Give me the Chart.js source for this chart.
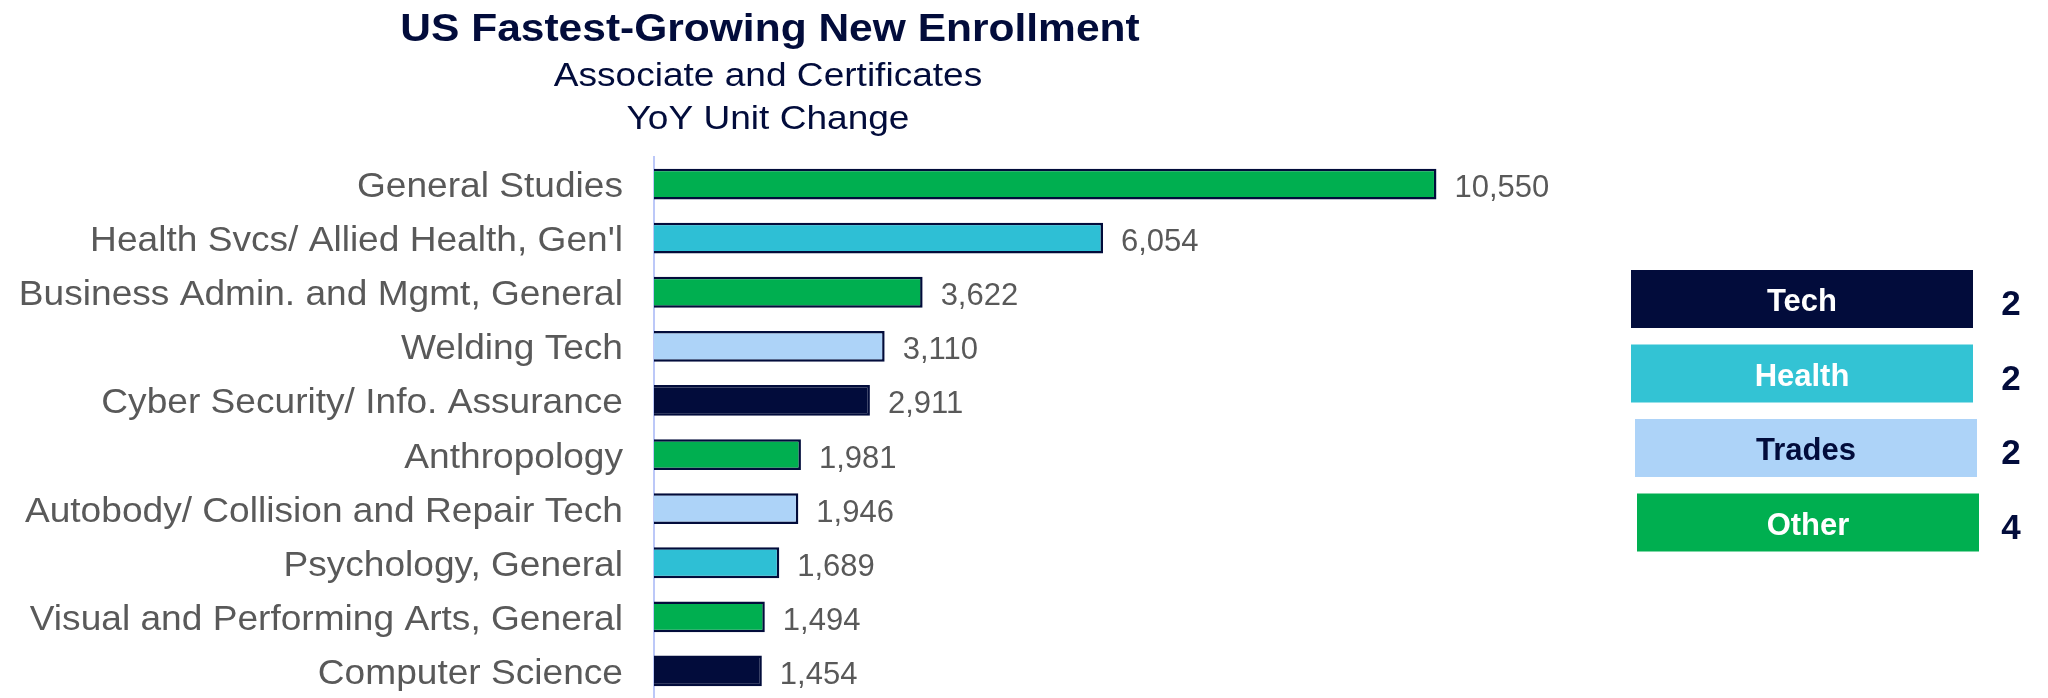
<!DOCTYPE html>
<html>
<head>
<meta charset="utf-8">
<script src="https://cdn.jsdelivr.net/npm/chart.js@4.4.1/dist/chart.umd.min.js"></script>
<style>
  html, body { margin: 0; padding: 0; background: #ffffff; }
  #wrap { width: 2048px; height: 698px; position: relative; }
</style>
</head>
<body>
<div id="wrap"><canvas id="enrollChart"></canvas></div>
<script>
const programs = [
  'General Studies',
  "Health Svcs/ Allied Health, Gen'l",
  'Business Admin. and Mgmt, General',
  'Welding Tech',
  'Cyber Security/ Info. Assurance',
  'Anthropology',
  'Autobody/ Collision and Repair Tech',
  'Psychology, General',
  'Visual and Performing Arts, General',
  'Computer Science'
];
const unitChange = [10550, 6054, 3622, 3110, 2911, 1981, 1946, 1689, 1494, 1454];
const programGroup = ['Other', 'Health', 'Other', 'Trades', 'Tech', 'Other', 'Trades', 'Health', 'Other', 'Tech'];

const groups = ['Tech', 'Health', 'Trades', 'Other'];
const groupCounts = [2, 2, 2, 4];

const titleLines = ['US Fastest-Growing New Enrollment', 'Associate and Certificates', 'YoY Unit Change'];

const navy = '#020C3B';
const groupColors = {
  Tech: '#020C3B',
  Health: '#2EBFD5',
  Trades: '#ADD3F8',
  Other: '#00AF50'
};
const legendColors = {
  Tech: '#020C3B',
  Health: '#33C3D4',
  Trades: '#ADD3F8',
  Other: '#00AF50'
};
const legendTextColors = {
  Tech: '#ffffff',
  Health: '#ffffff',
  Trades: '#020C3B',
  Other: '#ffffff'
};

const FONT = '"Liberation Sans", Arial, sans-serif';
const GRAY = '#595959';

function stretchedText(ctx, text, x, y, sx, align) {
  ctx.save();
  ctx.translate(x, y);
  ctx.scale(sx, 1);
  ctx.textAlign = align;
  ctx.fillText(text, 0, 0);
  ctx.restore();
}

function formatNumber(v) {
  return v.toLocaleString('en-US');
}

// titles, category labels, value labels and the group boxes on the right
const decorPlugin = {
  id: 'decor',
  afterDraw(chart) {
    const ctx = chart.ctx;
    const yScale = chart.scales.y;
    const xScale = chart.scales.x;
    const area = chart.chartArea;

    ctx.save();
    ctx.textBaseline = 'alphabetic';

    // titles
    ctx.fillStyle = navy;
    ctx.font = 'bold 39px ' + FONT;
    stretchedText(ctx, titleLines[0], 770, 41, 1.09, 'center');
    ctx.font = '34px ' + FONT;
    stretchedText(ctx, titleLines[1], 768, 86, 1.09, 'center');
    stretchedText(ctx, titleLines[2], 768, 129, 1.09, 'center');

    // category labels and values
    programs.forEach(function (name, i) {
      const yc = yScale.getPixelForValue(i);
      ctx.fillStyle = GRAY;
      ctx.font = '35px ' + FONT;
      stretchedText(ctx, name, area.left - 31, yc + 13, 1.06, 'right');
      ctx.font = '31px ' + FONT;
      const xEnd = xScale.getPixelForValue(unitChange[i]);
      stretchedText(ctx, formatNumber(unitChange[i]), xEnd + 18, yc + 13, 1.0, 'left');
    });

    // group boxes
    const boxLeft = [1631, 1631, 1635, 1637];
    groups.forEach(function (g, i) {
      const top = 270 + i * 74.5;
      ctx.fillStyle = legendColors[g];
      ctx.fillRect(boxLeft[i], top, 342, 58);
      ctx.fillStyle = legendTextColors[g];
      ctx.font = 'bold 31px ' + FONT;
      stretchedText(ctx, g, boxLeft[i] + 171, top + 41, 1.0, 'center');
      ctx.fillStyle = navy;
      ctx.font = 'bold 35px ' + FONT;
      stretchedText(ctx, String(groupCounts[i]), 2011, top + 45, 1.0, 'center');
    });

    ctx.restore();
  }
};

const ctx = document.getElementById('enrollChart');

new Chart(ctx, {
  type: 'bar',
  data: {
    labels: programs,
    datasets: [{
      data: unitChange,
      backgroundColor: programGroup.map(g => groupColors[g]),
      borderColor: navy,
      borderWidth: 2.5,
      borderSkipped: 'start',
      barPercentage: 0.57,
      categoryPercentage: 1.0
    }]
  },
  options: {
    indexAxis: 'y',
    responsive: true,
    maintainAspectRatio: false,
    animation: false,
    layout: {
      padding: { left: 654, top: 157, right: 504, bottom: -3 }
    },
    plugins: {
      legend: { display: false },
      tooltip: { enabled: false }
    },
    scales: {
      x: {
        display: false,
        min: 0,
        max: 12000
      },
      y: {
        display: true,
        ticks: { display: false },
        grid: { display: false },
        border: { display: true, color: '#BCC8F8', width: 2 },
        afterFit: function (scale) { scale.width = 0; }
      }
    }
  },
  plugins: [decorPlugin]
});
</script>
</body>
</html>
